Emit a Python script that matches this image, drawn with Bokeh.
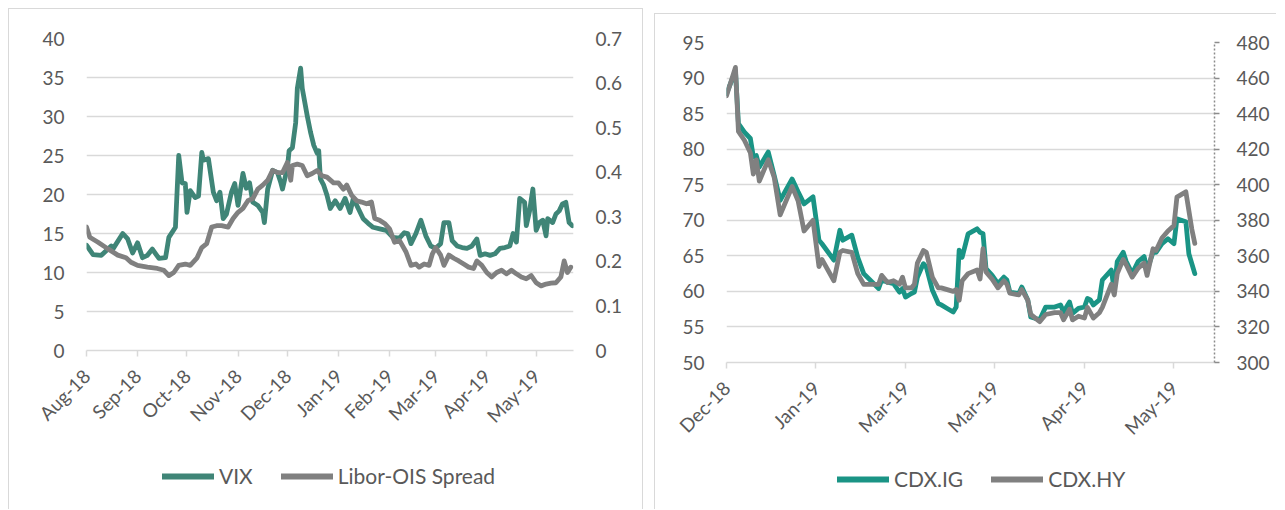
import pandas as pd
from bokeh.plotting import figure
from bokeh.models import (Range1d, LinearAxis, FixedTicker, MonthsTicker,
                          DatetimeTickFormatter, NumeralTickFormatter, Legend, LegendItem, Spacer)
from bokeh.layouts import row, column
from bokeh.embed import file_html
from bokeh.resources import INLINE
from math import pi

# ---------------- data: left panel ----------------
vix_dates = ["2018-08-01","2018-08-05","2018-08-10","2018-08-11","2018-08-16","2018-08-17","2018-08-23","2018-08-26","2018-08-29","2018-09-01",
             "2018-09-04","2018-09-07","2018-09-10","2018-09-12","2018-09-14","2018-09-18","2018-09-20","2018-09-24","2018-09-26","2018-09-28",
             "2018-09-30","2018-10-01","2018-10-03","2018-10-06","2018-10-08","2018-10-10","2018-10-11","2018-10-14","2018-10-17","2018-10-19",
             "2018-10-21","2018-10-23","2018-10-25","2018-10-28","2018-10-30","2018-11-01","2018-11-04","2018-11-06","2018-11-08","2018-11-10",
             "2018-11-13","2018-11-16","2018-11-17","2018-11-19","2018-11-22","2018-11-25","2018-11-27","2018-11-28","2018-12-01","2018-12-02",
             "2018-12-04","2018-12-06","2018-12-07","2018-12-09","2018-12-10","2018-12-13","2018-12-15","2018-12-17","2018-12-19","2018-12-20",
             "2018-12-21","2018-12-23","2018-12-25","2018-12-27","2018-12-30","2019-01-02","2019-01-05","2019-01-08","2019-01-10","2019-01-13",
             "2019-01-16","2019-01-19","2019-01-22","2019-01-26","2019-01-30","2019-02-03","2019-02-07","2019-02-10","2019-02-12","2019-02-14",
             "2019-02-17","2019-02-20","2019-02-23","2019-02-26","2019-03-01","2019-03-04","2019-03-06","2019-03-09","2019-03-11","2019-03-14",
             "2019-03-17","2019-03-20","2019-03-23","2019-03-26","2019-03-28","2019-03-31","2019-04-03","2019-04-06","2019-04-09","2019-04-12",
             "2019-04-15","2019-04-17","2019-04-19","2019-04-21","2019-04-24","2019-04-25","2019-04-27","2019-04-29","2019-05-01","2019-05-03",
             "2019-05-05","2019-05-07","2019-05-08","2019-05-11","2019-05-13","2019-05-15","2019-05-17","2019-05-19","2019-05-21","2019-05-23"]
vix_values = [13.5,12.3,12.2,12.4,13.4,13.0,15.0,14.3,12.5,13.8,
              11.9,12.2,13.0,12.4,11.8,11.9,14.5,15.8,25.0,21.5,
              21.4,17.7,20.5,19.6,19.8,25.4,24.4,24.6,20.3,19.2,
              20.3,16.9,17.5,20.3,21.4,18.6,22.7,20.8,21.5,19.0,
              18.6,17.7,16.4,20.7,23.1,22.8,21.5,20.7,23.5,25.6,
              26.0,29.2,33.6,36.2,33.6,30.1,28.0,26.3,25.3,25.6,
              22.0,21.2,19.9,18.2,19.2,18.2,19.5,17.7,19.5,18.2,
              16.9,16.3,15.8,15.6,15.4,14.5,14.4,15.1,15.0,13.7,
              15.0,16.7,14.7,13.4,13.1,13.7,16.4,16.4,14.1,13.4,
              13.2,13.1,13.4,14.3,12.2,12.4,12.2,12.4,13.1,13.2,
              13.4,15.0,13.9,19.5,19.0,16.0,17.9,20.7,15.4,16.4,
              16.7,14.7,16.9,16.4,17.5,17.9,18.8,19.0,16.4,16.0]

libor_dates = ["2018-08-01","2018-08-03","2018-08-08","2018-08-14","2018-08-20","2018-08-25","2018-08-28","2018-09-01","2018-09-07","2018-09-13",
               "2018-09-17","2018-09-20","2018-09-23","2018-09-26","2018-09-30","2018-10-03","2018-10-07","2018-10-10","2018-10-13","2018-10-16",
               "2018-10-19","2018-10-22","2018-10-26","2018-10-29","2018-11-01","2018-11-04","2018-11-07","2018-11-10","2018-11-13","2018-11-16",
               "2018-11-19","2018-11-22","2018-11-25","2018-11-28","2018-12-01","2018-12-03","2018-12-04","2018-12-07","2018-12-10","2018-12-13",
               "2018-12-16","2018-12-19","2018-12-22","2018-12-25","2018-12-29","2019-01-01","2019-01-04","2019-01-06","2019-01-09","2019-01-12",
               "2019-01-15","2019-01-18","2019-01-21","2019-01-23","2019-01-26","2019-01-29","2019-02-01","2019-02-04","2019-02-07","2019-02-11",
               "2019-02-14","2019-02-17","2019-02-19","2019-02-22","2019-02-25","2019-02-27","2019-03-01","2019-03-04","2019-03-06","2019-03-09",
               "2019-03-12","2019-03-15","2019-03-18","2019-03-21","2019-03-24","2019-03-26","2019-03-29","2019-04-01","2019-04-04","2019-04-07",
               "2019-04-10","2019-04-13","2019-04-16","2019-04-19","2019-04-22","2019-04-25","2019-04-28","2019-05-01","2019-05-04","2019-05-07",
               "2019-05-10","2019-05-13","2019-05-16","2019-05-18","2019-05-20","2019-05-22"]
libor_values = [0.277,0.254,0.243,0.228,0.214,0.208,0.198,0.191,0.187,0.184,
                0.180,0.168,0.175,0.191,0.194,0.191,0.207,0.231,0.240,0.277,
                0.280,0.280,0.277,0.296,0.310,0.319,0.336,0.341,0.362,0.371,
                0.382,0.404,0.399,0.399,0.422,0.382,0.415,0.418,0.415,0.392,
                0.397,0.404,0.392,0.389,0.376,0.376,0.362,0.371,0.348,0.336,
                0.333,0.329,0.333,0.296,0.292,0.285,0.273,0.243,0.247,0.221,
                0.191,0.194,0.187,0.194,0.191,0.217,0.231,0.214,0.191,0.214,
                0.207,0.201,0.194,0.187,0.184,0.201,0.191,0.175,0.165,0.175,
                0.180,0.172,0.180,0.172,0.165,0.161,0.168,0.152,0.145,0.149,
                0.151,0.152,0.165,0.201,0.175,0.187]

vix_ticks = [0, 5, 10, 15, 20, 25, 30, 35, 40]
libor_ticks = [0, 0.1, 0.2, 0.3, 0.4, 0.5, 0.6, 0.7]

# ---------------- data: right panel ----------------
cdx_ig_obs = [0,3,4,6,8,9,10,11,14,16,18,22,24,26,29,31,32,36,38,39,42,44,46,51,52,54,56,58,59,60,
              62,63,64,66,67,69,71,72,74,76,77,78,79,81,84,85,86,87,89,91,93,94,95,98,99,101,102,105,107,110,
              112,113,115,116,118,120,121,122,123,125,126,129,130,131,133,134,136,138,140,141,143,144,146,148,150,151,154,155,157]
cdx_ig = [87.8,91.0,83.6,82.4,81.5,78.9,79.1,77.5,79.6,76.3,72.8,75.8,74.0,72.3,73.3,67.2,66.7,64.4,68.6,67.2,
          67.9,64.8,62.5,60.4,61.6,61.3,61.1,59.9,60.4,59.2,59.7,59.9,62.0,63.9,63.4,60.2,58.3,58.1,57.6,57.1,
          57.8,65.8,64.8,68.1,68.8,68.3,68.1,63.2,62.3,61.1,62.0,61.6,59.9,59.7,60.6,58.8,56.4,56.0,57.8,57.8,
          58.1,57.1,58.5,56.9,57.6,57.8,59.0,58.8,58.1,58.8,61.6,63.0,60.2,64.2,65.5,64.2,62.5,64.2,64.9,63.0,
          65.5,65.5,66.7,67.4,66.7,70.2,69.8,65.3,62.5]
cdx_hy_obs = [0,3,4,6,8,9,10,11,14,16,18,22,24,26,29,31,32,36,38,39,42,44,46,51,52,54,56,58,59,60,
              62,63,64,66,67,69,71,72,74,76,77,78,79,81,84,85,86,87,89,91,93,94,95,98,99,101,102,105,107,110,
              112,113,115,116,118,120,121,122,123,125,126,129,130,131,133,134,136,138,140,141,143,144,146,148,150,151,154,156,157]
cdx_hy = [450,466,430,425,418,406,414,402,414,404,383,399,391,374,380,354,358,346,362,363,
          362,350,344,344,349,345,346,344,348,342,342,344,356,363,362,348,342,342,341,340,
          341,335,346,350,352,347,364,351,347,342,346,344,339,338,341,335,327,323,327,328,
          328,324,330,324,326,325,331,328,325,328,331,344,338,350,358,355,348,353,356,349,
          364,363,370,374,377,393,396,375,367]
cdx_tick_obs = [0, 30, 60, 90, 120, 150]
cdx_tick_labels = ["Dec-18", "Jan-19", "Mar-19", "Mar-19", "Apr-19", "May-19"]
ig_ticks = [50, 55, 60, 65, 70, 75, 80, 85, 90, 95]
hy_ticks = [300, 320, 340, 360, 380, 400, 420, 440, 460, 480]

# ---------------- style ----------------
FONT = "Lato"
TXT = "#595959"
GRID = "#D9D9D9"
TEAL_L = "#3F8577"
TEAL_R = "#1A9485"
GRAY = "#808080"
FS = "19px"
FS_LEG = "21px"
LW = 4.8
NAN = float("nan")


def style_common(p):
    p.outline_line_color = None
    p.background_fill_color = "white"
    p.border_fill_color = None
    p.xgrid.grid_line_color = None
    p.ygrid.grid_line_color = GRID
    p.ygrid.grid_line_width = 1.5
    for ax in p.yaxis:
        ax.axis_line_color = None
        ax.major_tick_line_color = None
        ax.minor_tick_line_color = None
        ax.major_tick_out = 0
        ax.major_tick_in = 0
        ax.major_label_standoff = 22
        ax.major_label_text_font = FONT
        ax.major_label_text_font_size = FS
        ax.major_label_text_color = TXT
    xa = p.xaxis[0]
    xa.axis_line_color = GRID
    xa.axis_line_width = 1.5
    xa.major_tick_line_color = GRID
    xa.major_tick_line_width = 1.5
    xa.major_tick_out = 6
    xa.major_tick_in = 0
    xa.minor_tick_line_color = None
    xa.major_label_orientation = pi / 4
    xa.major_label_standoff = 16
    xa.major_label_text_font = FONT
    xa.major_label_text_font_size = FS
    xa.major_label_text_color = TXT


def legend_fig(width, height, entries, loc):
    """A small axis-free strip holding the legend, placed under the chart."""
    f = figure(width=width, height=height, x_range=Range1d(0, 1), y_range=Range1d(0, 1),
               x_axis_location=None, y_axis_location=None, output_backend="svg",
               toolbar_location=None, min_border=0, outline_line_color=None)
    f.background_fill_color = None
    f.border_fill_color = None
    f.grid.grid_line_color = None
    items = []
    for label, color in entries:
        r = f.line(x=[NAN], y=[NAN], line_color=color, line_width=6, line_cap="round")
        items.append(LegendItem(label=label, renderers=[r]))
    leg = Legend(items=items, location=loc, orientation="horizontal",
                 glyph_width=52, glyph_height=20, label_standoff=5, spacing=28,
                 padding=0, margin=0, border_line_color=None, background_fill_alpha=0,
                 label_text_font=FONT, label_text_font_size=FS_LEG, label_text_color=TXT,
                 label_height=20)
    f.add_layout(leg, "center")
    return f


# ---------------- left panel ----------------
p1 = figure(width=635, height=442, x_axis_type="datetime",
            x_range=Range1d(pd.Timestamp("2018-08-01"), pd.Timestamp("2019-05-23 16:00")),
            y_range=Range1d(0, 40), output_backend="svg", toolbar_location=None,
            min_border_left=78, min_border_right=70, min_border_top=30, min_border_bottom=100)
p1.extra_y_ranges = {"libor": Range1d(0, 0.7)}
p1.add_layout(LinearAxis(y_range_name="libor", ticker=FixedTicker(ticks=libor_ticks),
                         formatter=NumeralTickFormatter(format="0.[0]")), "right")
p1.yaxis[0].ticker = FixedTicker(ticks=vix_ticks)
p1.xaxis[0].ticker = MonthsTicker(months=list(range(12)))
p1.xaxis[0].formatter = DatetimeTickFormatter(months="%b-%y", days="%b-%y")

p1.line(pd.to_datetime(vix_dates), vix_values, line_color=TEAL_L, line_width=LW,
        line_join="round", line_cap="round")
p1.line(pd.to_datetime(libor_dates), libor_values, y_range_name="libor", line_color=GRAY,
        line_width=LW, line_join="round", line_cap="round")
style_common(p1)
p1L = legend_fig(635, 60, [("VIX", TEAL_L), ("Libor-OIS Spread", GRAY)], (76, 22))

left_panel = column(p1, p1L, spacing=0,
                    styles={"outline": "1px solid #D9D9D9", "outline-offset": "-1px",
                            "clip-path": "inset(0 0 1px 0)", "background": "white"})

# ---------------- right panel ----------------
p2 = figure(width=623, height=439, x_range=Range1d(0, 163.6), y_range=Range1d(50, 95),
            output_backend="svg", toolbar_location=None,
            min_border_left=72, min_border_right=63, min_border_top=29, min_border_bottom=90)
p2.extra_y_ranges = {"hy": Range1d(300, 480)}
hy_axis = LinearAxis(y_range_name="hy", ticker=FixedTicker(ticks=hy_ticks))
p2.add_layout(hy_axis, "right")
p2.yaxis[0].ticker = FixedTicker(ticks=ig_ticks)
p2.xaxis[0].ticker = FixedTicker(ticks=cdx_tick_obs)
p2.xaxis[0].major_label_overrides = dict(zip(cdx_tick_obs, cdx_tick_labels))

p2.line(cdx_ig_obs, cdx_ig, line_color=TEAL_R, line_width=LW, line_join="round", line_cap="round")
p2.line(cdx_hy_obs, cdx_hy, y_range_name="hy", line_color=GRAY, line_width=LW,
        line_join="round", line_cap="round")
style_common(p2)
hy_axis.axis_line_color = "#8C8C8C"
hy_axis.axis_line_width = 1.5
hy_axis.axis_line_dash = "2 2"
hy_axis.major_tick_line_color = "#8C8C8C"
hy_axis.major_tick_line_width = 1.5
hy_axis.major_tick_out = 5
hy_axis.major_label_standoff = 17
p2L = legend_fig(623, 58, [("CDX.IG", TEAL_R), ("CDX.HY", GRAY)], (111, 19))

right_panel = column(p2, p2L, spacing=0,
                     styles={"outline": "1px solid #D9D9D9", "outline-offset": "-1px",
                             "clip-path": "inset(0 1px 1px 0)", "background": "white"})

charts = row(left_panel, Spacer(width=11), column(Spacer(height=5), right_panel, spacing=0), spacing=0)
# reproduce the 8px page margin (Bokeh's page template resets the body margin to 0)
layout = column(Spacer(height=8), row(Spacer(width=8), charts, spacing=0), spacing=0)
open("out.html", "w").write(file_html(layout, INLINE))
